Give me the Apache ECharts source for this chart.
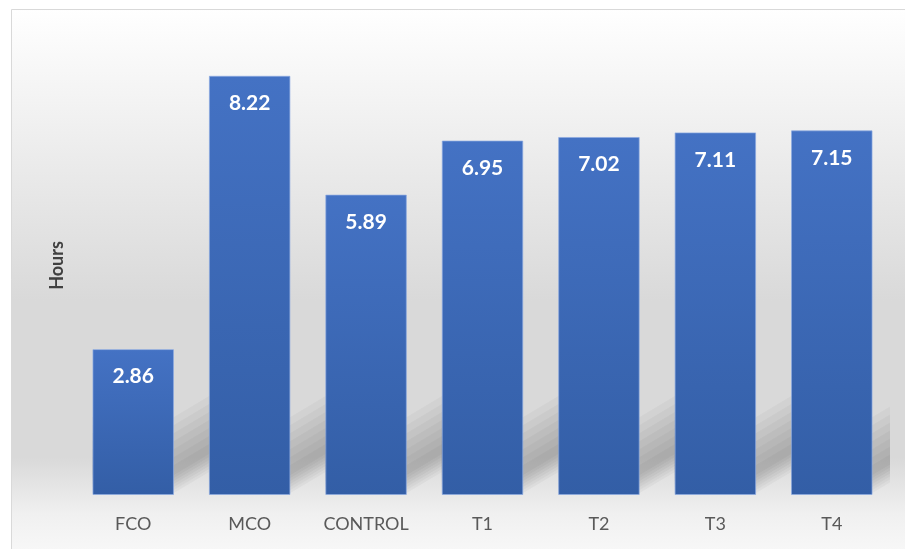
<!DOCTYPE html>
<html>
<head>
<meta charset="utf-8">
<script src="https://cdn.jsdelivr.net/npm/echarts@6/dist/echarts.min.js"></script>
<style>
  html, body { margin: 0; padding: 0; background: #fff; }
  #chart { width: 905px; height: 549px; }
</style>
</head>
<body>
<div id="chart"></div>
<script>
// data
const categories = ['FCO', 'MCO', 'CONTROL', 'T1', 'T2', 'T3', 'T4']
const hours = [2.86, 8.22, 5.89, 6.95, 7.02, 7.11, 7.15]

const myChart = echarts.init(document.getElementById('chart'))

// soft diagonal shadow behind each bar, built from a few faint layers
function renderShadow(params, api) {
  const i = api.value(0)
  const base = api.coord([i, 0])
  const bandW = api.size([1, 0])[0] * 0.7
  const x0 = base[0] - bandW / 2
  const x1 = base[0] + bandW / 2
  const w = 36, s = 0.6
  const layers = []
  for (let k = 0; k < 7; k++) {
    const b = 2 + (6 - k) * 3      // bottom edge, fades near the floor
    const t = 30 + k * 8           // top edge, fades upward
    const y = base[1] - b
    layers.push({
      type: 'polygon',
      shape: {
        points: [
          [x0, y], [x1, y], [x1 + w, y - w * s],
          [x1 + w, base[1] - t - w * s], [x1, base[1] - t], [x0, base[1] - t]
        ]
      },
      style: { fill: 'rgba(0,0,0,0.03)' }
    })
  }
  return { type: 'group', children: layers }
}

const option = {
  backgroundColor: '#fff',
  graphic: [{
    type: 'rect',
    z: -10,
    silent: true,
    shape: { x: 11.5, y: 9.5, width: 905, height: 560 },
    style: {
      stroke: '#d9d9d9',
      lineWidth: 1,
      fill: {
        type: 'linear', x: 0, y: 0, x2: 0, y2: 1,
        colorStops: [
          { offset: 0, color: '#ffffff' },
          { offset: 0.52, color: '#d9d9d9' },
          { offset: 0.8, color: '#d9d9d9' },
          { offset: 0.9, color: '#f0f0f0' },
          { offset: 1, color: '#fbfbfb' }
        ]
      }
    }
  }],
  grid: { left: 75, right: 15, top: 36, bottom: 54 },
  xAxis: {
    type: 'category',
    data: categories,
    axisLine: { show: false },
    axisTick: { show: false },
    axisLabel: {
      color: '#595959',
      fontFamily: 'Lato',
      fontSize: 18,
      margin: 20
    }
  },
  yAxis: {
    type: 'value',
    min: 0,
    max: 9,
    name: 'Hours',
    nameLocation: 'middle',
    nameGap: 9,
    nameRotate: 90,
    nameTextStyle: {
      color: '#404040',
      fontFamily: 'Lato',
      fontWeight: 'bold',
      fontSize: 18
    },
    axisLine: { show: false },
    axisTick: { show: false },
    axisLabel: { show: false },
    splitLine: { show: false }
  },
  series: [
    {
      type: 'custom',
      renderItem: renderShadow,
      data: hours.map((v, i) => [i, v]),
      clip: true,
      silent: true,
      z: 1
    },
    {
      type: 'bar',
      data: hours,
      barWidth: '70%',
      z: 2,
      itemStyle: {
        borderColor: 'rgba(140,170,225,0.7)',
        borderWidth: 1,
        color: {
          type: 'linear', x: 0, y: 0, x2: 0, y2: 1,
          colorStops: [
            { offset: 0, color: '#4472c4' },
            { offset: 1, color: '#335ea6' }
          ]
        }
      },
      label: {
        show: true,
        position: 'insideTop',
        distance: 17,
        color: '#ffffff',
        fontFamily: 'Lato',
        fontWeight: 'bold',
        fontSize: 21,
        formatter: p => p.value.toFixed(2)
      }
    }
  ]
}

myChart.setOption(option)
window.addEventListener('resize', () => myChart.resize())
</script>
</body>
</html>
